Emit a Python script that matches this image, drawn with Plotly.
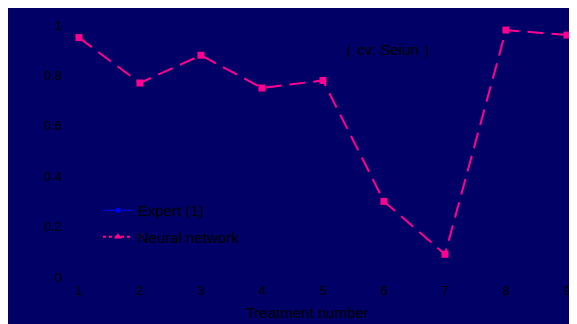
import plotly.graph_objects as go

treatments = [1, 2, 3, 4, 5, 6, 7, 8, 9]
neural_network = [0.95, 0.77, 0.88, 0.75, 0.78, 0.30, 0.09, 0.98, 0.96]
y_ticks = [0, 0.2, 0.4, 0.6, 0.8, 1]
y_tick_labels = ["0", "0.2", "0.4", "0.6", "0.8", "1"]

NAVY = "#000066"
PINK = "#ff0090"
FONT = "Liberation Sans, Arial, sans-serif"

# page has an 8px body margin, figure fills the rest
W, H = 569, 316
L, R, T, B = 55, 0, 0, 43

fig = go.Figure()
fig.add_trace(go.Scatter(
    x=treatments, y=neural_network, mode="lines+markers",
    line=dict(color=PINK, width=2, dash="16px,8px"),
    marker=dict(symbol="square", size=7, color=PINK),
    showlegend=False,
))
fig.add_trace(go.Scatter(
    x=[None], y=[None], mode="lines+markers", name="Expert (1)",
    legendgroup="a",
    line=dict(color="#0000ff", width=1),
    marker=dict(symbol="circle", size=5, color="#0000ff"),
))
fig.add_trace(go.Scatter(
    x=[None], y=[None], mode="lines+markers", name="Neural network",
    legendgroup="b",
    line=dict(color=PINK, width=2, dash="dot"),
    marker=dict(symbol="triangle-up", size=7, color=PINK),
))

pw = W - L - R
ph = H - T - B


def px(x):
    return (x - L) / pw


def py(y):
    return (H - B - y) / ph


fig.update_layout(
    width=W, height=H,
    margin=dict(l=L, r=R, t=T, b=B, pad=0),
    paper_bgcolor=NAVY, plot_bgcolor=NAVY,
    font=dict(family=FONT, color="black", size=13),
    xaxis=dict(range=[0.738, 9.164], tickvals=treatments, showgrid=False,
               zeroline=False, showline=False, ticks="", tickfont=dict(size=13)),
    yaxis=dict(range=[-0.0159, 1.0675], tickvals=y_ticks, ticktext=y_tick_labels,
               showgrid=False, zeroline=False, showline=False, ticks="",
               tickfont=dict(size=13)),
    legend=dict(x=px(90), y=py(186), xanchor="left", yanchor="top",
                bgcolor="rgba(0,0,0,0)", font=dict(size=15, color="black"),
                itemwidth=30, tracegroupgap=4),
    annotations=[
        dict(text="（ cv: Seiun ）", xref="paper", yref="paper",
             x=px(380), y=py(41), showarrow=False,
             font=dict(size=15, color="black"), xanchor="center", yanchor="middle"),
        dict(text="Treatment number", xref="paper", yref="paper",
             x=px(299), y=py(304), showarrow=False,
             font=dict(size=15, color="black"), xanchor="center", yanchor="middle"),
    ],
)

fig.write_html("out.html")
